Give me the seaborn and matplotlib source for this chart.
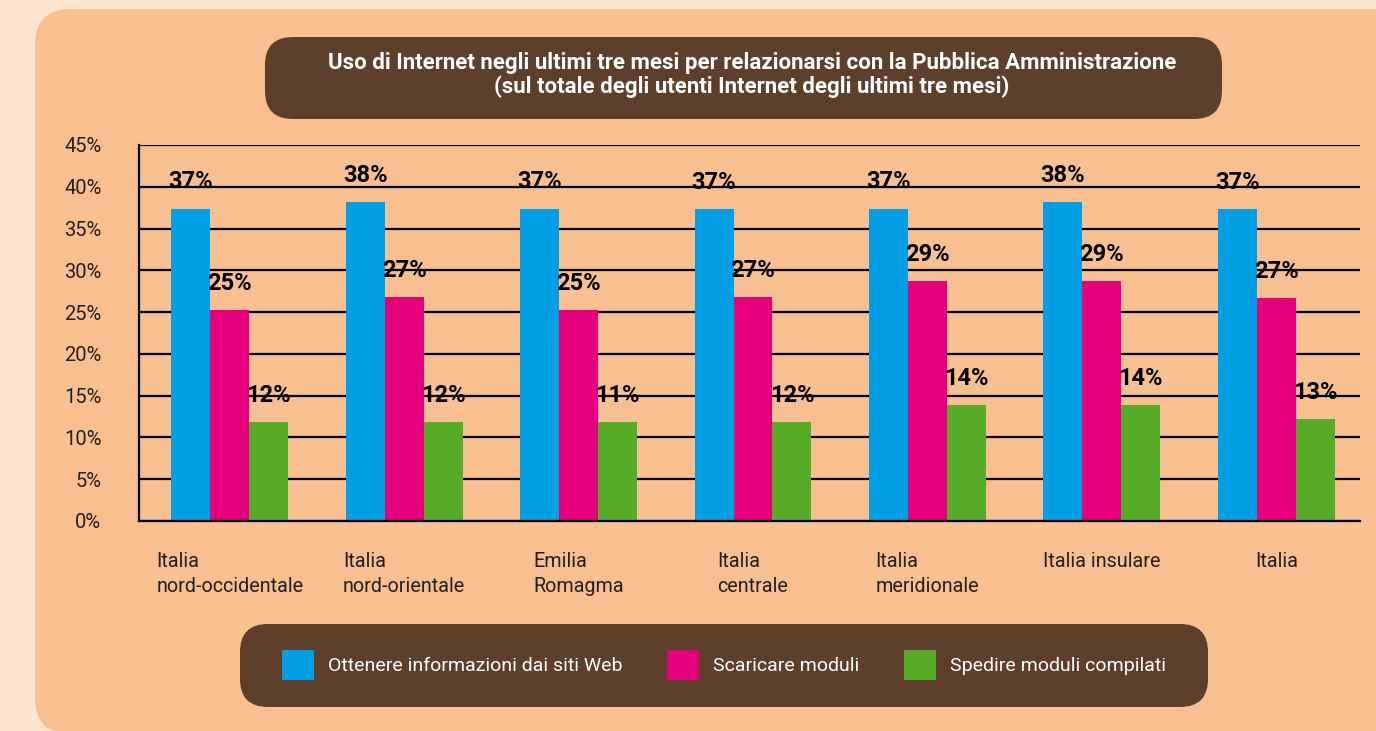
import pandas as pd
import matplotlib.pyplot as plt
import seaborn as sns
from matplotlib.patches import FancyBboxPatch
from matplotlib.ticker import FixedLocator, PercentFormatter
from matplotlib.transforms import IdentityTransform

# --- data ---
regions = ["Italia\nnord-occidentale", "Italia\nnord-orientale", "Emilia\nRomagma",
           "Italia\ncentrale", "Italia\nmeridionale", "Italia insulare", "Italia"]
series = ["Ottenere informazioni dai siti Web", "Scaricare moduli",
          "Spedire moduli compilati"]
info_web = [37.4, 38.2, 37.4, 37.3, 37.4, 38.2, 37.3]
scaricare = [25.2, 26.8, 25.2, 26.8, 28.7, 28.7, 26.7]
spedire = [11.8, 11.8, 11.8, 11.8, 13.9, 13.9, 12.2]
info_labels = ["37%", "38%", "37%", "37%", "37%", "38%", "37%"]
scaricare_labels = ["25%", "27%", "25%", "27%", "29%", "29%", "27%"]
spedire_labels = ["12%", "12%", "11%", "12%", "14%", "14%", "13%"]

colors = ["#009FE3", "#E3007A", "#57AB27"]
BG_OUT = "#FDE5D0"
BG_PANEL = "#F8C091"
BROWN = "#5E3F2C"

sns.set_theme(style="white")
plt.rcParams["font.family"] = ["Roboto", "DejaVu Sans"]

df = pd.DataFrame({
    "region": regions * 3,
    "series": [series[0]] * 7 + [series[1]] * 7 + [series[2]] * 7,
    "value": info_web + scaricare + spedire,
})

fig = plt.figure(figsize=(13.76, 7.31), dpi=100, facecolor=BG_OUT)

# background panel and boxes (pixel coordinates), kept behind the axes
px = IdentityTransform()
fig.patches.append(FancyBboxPatch((35, -3), 1400, 725, boxstyle="round,pad=0,rounding_size=36",
                                  transform=px, facecolor=BG_PANEL, edgecolor="none", zorder=-3))
fig.patches.append(FancyBboxPatch((265, 612), 957, 82, boxstyle="round,pad=0,rounding_size=28",
                                  transform=px, facecolor=BROWN, edgecolor="none", zorder=-2))
fig.patches.append(FancyBboxPatch((240, 24), 968, 83, boxstyle="round,pad=0,rounding_size=28",
                                  transform=px, facecolor=BROWN, edgecolor="none", zorder=-2))

fig.text(752 / 1376, (731 - 75) / 731,
         "Uso di Internet negli ultimi tre mesi per relazionarsi con la Pubblica Amministrazione\n"
         "(sul totale degli utenti Internet degli ultimi tre mesi)",
         ha="center", va="center", color="white", fontsize=16, fontweight="bold", linespacing=1.05)

ax = fig.add_axes([139 / 1376, (731 - 521) / 731, (1360 - 139) / 1376, (521 - 145) / 731])
ax.set_facecolor("none")

sns.barplot(data=df, x="region", y="value", hue="series", palette=colors,
            width=0.67, gap=0, saturation=1, linewidth=0, ax=ax, zorder=3)

for cont, labs in zip(ax.containers, [info_labels, scaricare_labels, spedire_labels]):
    ax.bar_label(cont, labels=labs, padding=11, fontsize=17, fontweight="bold", color="black")

x0 = -0.52
ax.set_ylim(0, 45)
ax.set_xlim(x0, x0 + 7)
ax.set_yticks(range(0, 50, 5))
ax.yaxis.set_major_formatter(PercentFormatter(decimals=0))
ax.grid(axis="y", color="black", linewidth=1.6, zorder=1)
ax.set_axisbelow(True)
for s in ["top", "right"]:
    ax.spines[s].set_visible(False)
for s in ["left", "bottom"]:
    ax.spines[s].set_color("black")
    ax.spines[s].set_linewidth(1.6)
    ax.spines[s].set_zorder(4)

ax.xaxis.set_minor_locator(FixedLocator([x0 + i for i in range(8)]))
ax.tick_params(axis="x", which="minor", direction="out", length=7, width=1.6, color="black")
ax.tick_params(axis="x", which="major", length=0, pad=22, labelsize=14.2, labelcolor="#231F20")
ax.tick_params(axis="y", direction="out", length=5, width=1.6, color="black",
               pad=22, labelsize=14.5, labelcolor="#231F20")
for t in ax.get_xticklabels():
    t.set_multialignment("left")
    t.set_linespacing(1.45)
    t.set_va("top")

ax.set_xlabel("")
ax.set_ylabel("")

leg = ax.legend(loc="center", bbox_to_anchor=(724 / 1376, (731 - 665) / 731),
                bbox_transform=fig.transFigure, ncol=3, frameon=False, fontsize=14,
                handlelength=1.65, handleheight=2.05, handletextpad=0.7, columnspacing=2.3,
                borderpad=0)
for t in leg.get_texts():
    t.set_color("white")

fig.savefig("out.png", dpi=100, facecolor=BG_OUT)
